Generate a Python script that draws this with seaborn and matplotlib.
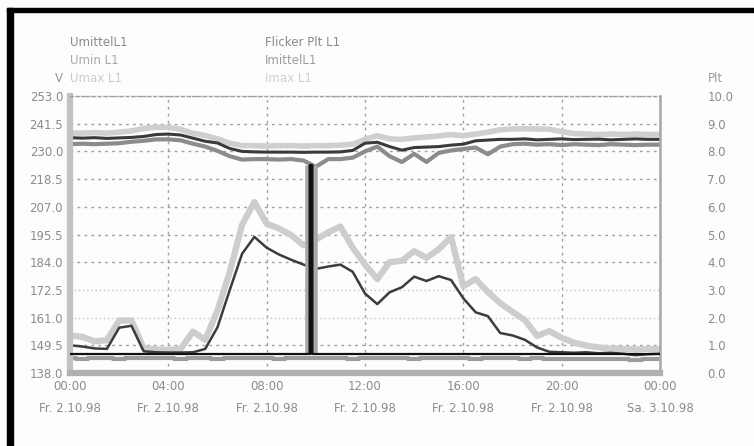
import numpy as np
import pandas as pd
import seaborn as sns
import matplotlib
matplotlib.use("Agg")
import matplotlib.pyplot as plt
from matplotlib.patches import Rectangle

# Half-hourly samples, Fr. 2.10.98 00:00 -> Sa. 3.10.98 00:00
hours = np.arange(0, 24.5, 0.5)

u_max = [237.6, 237.6, 237.8, 237.6, 238.0, 238.5, 239.5, 240.0, 240.0, 239.2,
         237.5, 236.6, 235.2, 233.4, 232.4, 232.4, 232.2, 232.4, 232.4, 232.2,
         232.4, 232.4, 232.6, 233.0, 235.0, 236.5, 235.2, 235.0, 235.6, 236.0,
         236.4, 237.0, 236.5, 237.2, 238.0, 239.0, 239.3, 239.4, 239.3, 239.2,
         238.2, 237.4, 237.2, 237.0, 237.2, 237.0, 237.2, 237.0, 237.0]
u_mittel = [235.7, 235.5, 235.7, 235.4, 235.6, 235.8, 236.2, 237.0, 237.2, 236.8,
            235.5, 234.2, 233.5, 231.2, 230.0, 229.8, 229.7, 229.7, 229.7, 229.6,
            229.7, 229.7, 229.8, 230.4, 233.4, 233.8, 232.0, 230.5, 231.6, 231.8,
            232.0, 232.6, 233.0, 234.4, 234.7, 235.0, 235.0, 235.2, 234.8, 235.0,
            235.2, 234.9, 235.0, 235.1, 234.8, 235.0, 235.2, 235.0, 235.0]
u_min = [233.0, 233.2, 233.0, 233.2, 233.4, 234.0, 234.4, 235.0, 235.0, 234.6,
         233.2, 232.0, 230.2, 228.0, 226.6, 226.8, 226.8, 226.6, 226.8, 226.2,
         223.6, 226.8, 226.8, 227.4, 230.0, 232.0, 228.0, 225.6, 229.0, 225.6,
         229.4, 230.4, 231.0, 231.6, 228.8, 232.0, 233.0, 233.2, 232.8, 233.0,
         232.6, 233.0, 232.8, 232.6, 233.0, 232.8, 232.6, 232.8, 232.8]

i_max = [153.6, 153.0, 151.2, 151.6, 159.8, 159.8, 148.2, 147.8, 147.6, 148.0,
         155.2, 151.8, 164.0, 180.0, 199.5, 209.0, 200.0, 198.0, 195.2, 191.0,
         193.4, 196.4, 198.8, 190.0, 183.0, 177.0, 184.0, 184.6, 188.6, 185.8,
         189.4, 194.5, 174.0, 177.0, 171.6, 167.0, 163.4, 160.0, 153.4, 155.4,
         152.6, 150.6, 149.4, 148.6, 148.2, 148.0, 147.8, 148.0, 148.0]
i_mittel = [149.5, 149.0, 148.2, 148.0, 156.8, 157.6, 147.0, 146.6, 146.5, 146.5,
            146.6, 148.0, 157.0, 172.5, 187.5, 194.5, 190.0, 187.2, 185.0, 183.0,
            181.2, 182.2, 183.0, 180.0, 171.0, 166.6, 171.5, 173.6, 178.0, 176.2,
            178.2, 176.6, 169.0, 163.2, 161.6, 154.6, 153.6, 151.8, 148.6, 146.8,
            146.6, 146.4, 146.6, 146.2, 146.4, 146.0, 145.4, 145.8, 146.0]
i_min = [144.2, 144.0, 144.4, 144.2, 144.0, 144.3, 144.1, 144.2, 144.4, 144.0,
         144.2, 144.3, 144.0, 144.2, 144.4, 144.1, 144.2, 144.0, 144.3, 144.2,
         144.1, 144.4, 144.2, 144.0, 144.2, 144.3, 144.1, 144.2, 144.0, 144.2,
         144.4, 144.1, 144.2, 144.0, 144.3, 144.2, 144.1, 144.0, 144.2, 143.8,
         144.0, 143.9, 143.8, 144.0, 143.7, 143.9, 143.6, 143.8, 143.9]

# Long-term flicker severity (right scale)
plt_hours = [0.0, 4.0, 8.0, 9.7, 9.8, 9.9, 12.0, 16.0, 20.0, 24.0]
plt_l1 = [0.70, 0.70, 0.70, 0.70, 7.5, 0.70, 0.70, 0.70, 0.70, 0.70]

v_ticks = [138.0, 149.5, 161.0, 172.5, 184.0, 195.5, 207.0, 218.5, 230.0, 241.5, 253.0]
plt_ticks = [0.0, 1.0, 2.0, 3.0, 4.0, 5.0, 6.0, 7.0, 8.0, 9.0, 10.0]
x_ticks = [0, 4, 8, 12, 16, 20, 24]
x_labels = ["00:00\nFr. 2.10.98", "04:00\nFr. 2.10.98", "08:00\nFr. 2.10.98",
            "12:00\nFr. 2.10.98", "16:00\nFr. 2.10.98", "20:00\nFr. 2.10.98",
            "00:00\nSa. 3.10.98"]

left_legend = ["UmittelL1", "Umin L1", "Umax L1"]
right_legend = ["Flicker Plt L1", "ImittelL1", "Imax L1"]

sns.set_theme(style="white")
plt.rcParams["font.family"] = ["DejaVu Sans"]

W, H = 754, 446
bg = "#fefcfe"
fig = plt.figure(figsize=(W / 100, H / 100), dpi=100, facecolor=bg)
ax = fig.add_axes([70 / W, 1 - 373 / H, 590 / W, 277 / H], facecolor=bg)

df = pd.DataFrame({"h": hours, "u_max": u_max, "u_mittel": u_mittel, "u_min": u_min,
                   "i_max": i_max, "i_mittel": i_mittel, "i_min": i_min})

styles = [("i_min", "#9c9c9c", 3.0), ("i_max", "#cdcdcd", 4.5), ("i_mittel", "#3c3c3c", 1.8),
          ("u_max", "#cfcfcf", 4.0), ("u_min", "#8c8c8c", 3.0), ("u_mittel", "#3a3a3a", 2.2)]
for col, color, lw in styles:
    sns.lineplot(data=df, x="h", y=col, ax=ax, color=color, linewidth=lw,
                 drawstyle="steps-mid" if col == "i_min" else "default")

ax.set_xlim(0, 24)
ax.set_ylim(138, 253)
ax.set_xticks(x_ticks)
ax.set_xticklabels(x_labels, linespacing=1.9)
ax.set_yticks(v_ticks)
ax.set_yticklabels([f"{v:.1f}" for v in v_ticks])
ax.set_xlabel("")
ax.set_ylabel("")
ax.tick_params(axis="both", length=0, labelsize=8.5, colors="#8c8c8c")
ax.tick_params(axis="y", pad=5)
ax.tick_params(axis="x", pad=5)
ax.grid(True, color="#a0a0a0", linestyle=(0, (2, 3)), linewidth=1.0)
# the two lower-middle grid lines are drawn fainter and denser
for gl, val in zip(ax.get_ygridlines(), v_ticks):
    if val in (161.0, 172.5):
        gl.set_color("#c4c4c4")
        gl.set_linestyle((0, (1, 2)))

for side, color, lw in [("left", "#c2c2c2", 4.5), ("bottom", "#b0b0b0", 4.5),
                        ("right", "#a8a8a8", 1.8), ("top", "#a0a0a0", 1.0)]:
    ax.spines[side].set_visible(True)
    ax.spines[side].set_color(color)
    ax.spines[side].set_linewidth(lw)
ax.spines["top"].set_linestyle((0, (2, 2)))

ax2 = ax.twinx()
ax2.set_ylim(0, 10)
plt_arr = np.array(plt_l1)
hrs_arr = np.array(plt_hours)
peak = plt_arr > 2
ax2.vlines(hrs_arr[peak], plt_arr.min(), plt_arr[peak], color="#a8a8a8", linewidth=9)
ax2.vlines(hrs_arr[peak], plt_arr.min(), plt_arr[peak], color="#555555", linewidth=4)
sns.lineplot(x=plt_hours, y=plt_l1, ax=ax2, color="#111111", linewidth=1.6,
             drawstyle="steps-mid")
ax2.set_yticks(plt_ticks)
ax2.set_yticklabels([f"{v:.1f}" for v in plt_ticks])
ax2.tick_params(axis="y", length=0, labelsize=8.5, colors="#8c8c8c", pad=34)
ax2.grid(False)
for s in ax2.spines.values():
    s.set_visible(False)

# Series captions and unit labels
for i, (txt, c) in enumerate(zip(left_legend, ["#8a8a8a", "#a8a8a8", "#cacaca"])):
    fig.text(70 / W, 1 - (43 + 18 * i) / H, txt, color=c, fontsize=8.5, va="center", ha="left")
for i, (txt, c) in enumerate(zip(right_legend, ["#8a8a8a", "#9c9c9c", "#d0d0d0"])):
    fig.text(265 / W, 1 - (43 + 18 * i) / H, txt, color=c, fontsize=8.5, va="center", ha="left")
fig.text(63 / W, 1 - 79 / H, "V", color="#9a9a9a", fontsize=8.5, va="center", ha="right")
fig.text(708 / W, 1 - 79 / H, "Plt", color="#9a9a9a", fontsize=8.5, va="center", ha="left")

# Frame edges
fig.patches.append(Rectangle((7 / W, 0), 6 / W, 1 - 8 / H, transform=fig.transFigure,
                             color="black", zorder=10))
fig.patches.append(Rectangle((7 / W, 1 - 12 / H), 1 - 7 / W, 4 / H, transform=fig.transFigure,
                             color="black", zorder=10))

fig.savefig("out.png", dpi=100, facecolor=bg)
